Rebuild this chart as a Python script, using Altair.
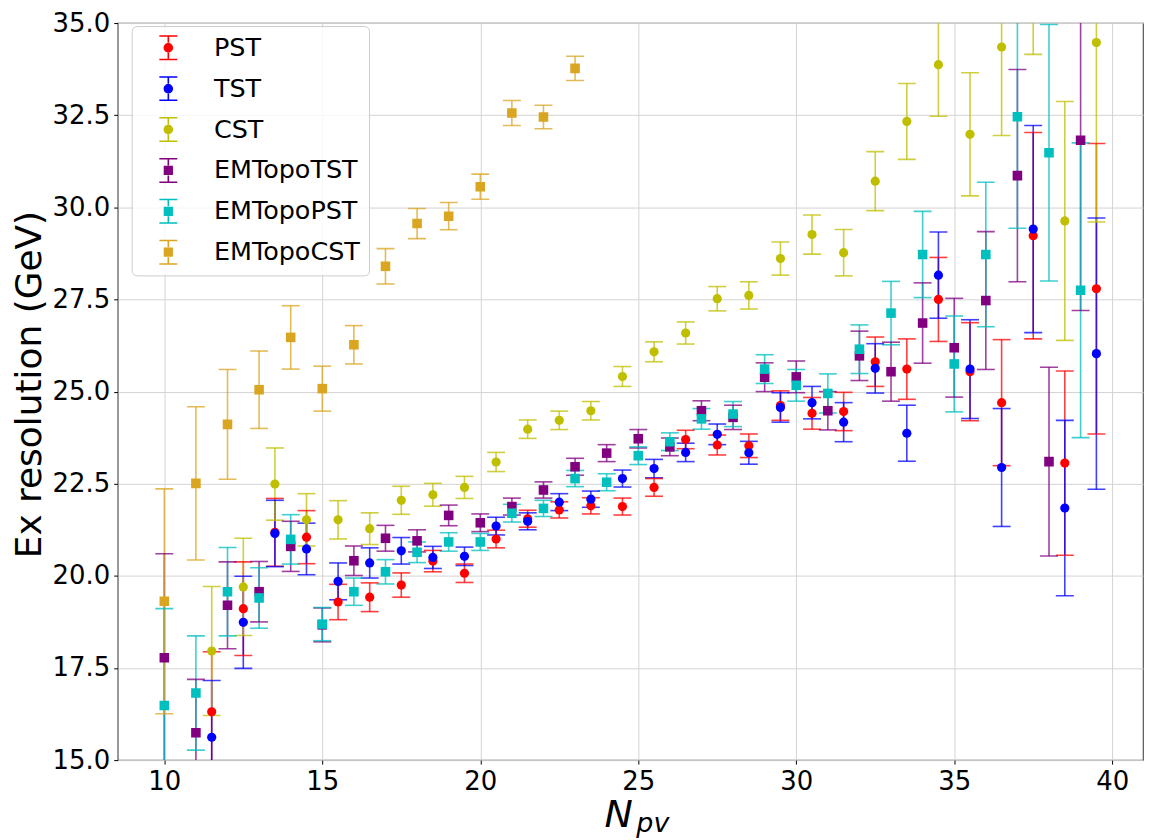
import altair as alt
import pandas as pd

# ---------------- data ----------------
series_names = ["PST", "TST", "CST", "EMTopoTST", "EMTopoPST", "EMTopoCST"]
series_colors = ["#ff0000", "#0000ff", "#bfbf00", "#800080", "#00bfbf", "#daa520"]

npv_half = [11.5, 12.5, 13.5, 14.5, 15.5, 16.5, 17.5, 18.5, 19.5, 20.5,
            21.5, 22.5, 23.5, 24.5, 25.5, 26.5, 27.5, 28.5, 29.5, 30.5,
            31.5, 32.5, 33.5, 34.5, 35.5, 36.5, 37.5, 38.5, 39.5]
npv_int = [10, 11, 12, 13, 14, 15, 16, 17, 18, 19, 20, 21, 22, 23, 24,
           25, 26, 27, 28, 29, 30, 31, 32, 33, 34, 35, 36, 37, 38, 39]
npv_emcst = [10, 11, 12, 13, 14, 15, 16, 17, 18, 19, 20, 21, 22, 23]

pst_val = [16.31, 19.11, 21.18, 21.05, 19.29, 19.42, 19.75, 20.40, 20.07, 21.00,
           21.55, 21.79, 21.90, 21.88, 22.40, 23.70, 23.55, 23.53, 24.62, 24.41,
           24.46, 25.81, 25.61, 27.50, 25.54, 24.70, 29.23, 23.06, 27.79]
pst_err = [1.63, 1.27, 0.92, 0.72, 0.48, 0.39, 0.33, 0.29, 0.25, 0.24,
           0.23, 0.22, 0.22, 0.23, 0.24, 0.25, 0.27, 0.32, 0.40, 0.43,
           0.52, 0.67, 0.82, 1.14, 1.33, 1.71, 2.80, 2.50, 3.94]

tst_val = [15.62, 18.74, 21.15, 20.73, 19.85, 20.35, 20.68, 20.50, 20.53, 21.35,
           21.48, 22.00, 22.08, 22.64, 22.91, 23.35, 23.84, 23.34, 24.57, 24.70,
           24.17, 25.63, 23.87, 28.16, 25.61, 22.94, 29.41, 21.84, 26.03]
tst_err = [1.54, 1.25, 0.90, 0.70, 0.50, 0.41, 0.36, 0.30, 0.25, 0.24,
           0.23, 0.23, 0.22, 0.23, 0.25, 0.25, 0.28, 0.31, 0.40, 0.44,
           0.53, 0.67, 0.76, 1.17, 1.34, 1.60, 2.81, 2.38, 3.68]

cst_val = [17.96, 19.70, 22.49, 21.52, 21.52, 21.28, 22.05, 22.20, 22.40, 23.09,
           23.98, 24.22, 24.48, 25.41, 26.08, 26.59, 27.52, 27.61, 28.61, 29.26,
           28.77, 30.71, 32.33, 33.87, 31.98, 34.35, 36.70, 29.63, 34.47]
cst_err = [1.75, 1.32, 0.98, 0.71, 0.52, 0.43, 0.38, 0.31, 0.30, 0.26,
           0.25, 0.25, 0.25, 0.27, 0.27, 0.30, 0.33, 0.37, 0.45, 0.53,
           0.63, 0.80, 1.03, 1.40, 1.67, 2.40, 2.55, 3.24, 4.87]

emtst_val = [17.78, 15.74, 19.20, 19.57, 20.80, 18.67, 20.41, 21.02, 20.95, 21.64,
             21.44, 21.88, 22.33, 22.96, 23.33, 23.72, 23.50, 24.48, 24.30, 25.39,
             25.40, 24.48, 25.97, 25.54, 26.86, 26.19, 27.47, 30.86, 23.10, 31.82]
emtst_err = [2.82, 1.45, 1.18, 0.82, 0.68, 0.46, 0.40, 0.35, 0.30, 0.28,
             0.24, 0.23, 0.22, 0.23, 0.23, 0.25, 0.24, 0.27, 0.33, 0.39,
             0.43, 0.52, 0.67, 0.80, 1.09, 1.34, 1.87, 2.88, 2.56, 4.62]

empst_val = [16.48, 16.82, 19.57, 19.40, 20.99, 18.69, 19.57, 20.11, 20.64, 20.92,
             20.92, 21.70, 21.83, 22.64, 22.54, 23.26, 23.64, 24.26, 24.39, 25.61,
             25.17, 24.95, 26.15, 27.13, 28.72, 25.75, 28.72, 32.46, 31.48, 27.75]
empst_err = [2.63, 1.55, 1.20, 0.82, 0.67, 0.45, 0.37, 0.33, 0.28, 0.25,
             0.23, 0.24, 0.22, 0.22, 0.23, 0.24, 0.24, 0.28, 0.34, 0.39,
             0.43, 0.53, 0.66, 0.86, 1.17, 1.30, 1.96, 3.03, 3.48, 4.00]

emcst_val = [19.31, 22.51, 24.11, 25.05, 26.47, 25.08, 26.27, 28.40, 29.56, 29.76,
             30.56, 32.56, 32.45, 33.77]
emcst_err = [3.05, 2.08, 1.49, 1.05, 0.86, 0.61, 0.52, 0.48, 0.41, 0.37,
             0.34, 0.34, 0.32, 0.33]

x_ticks = [10, 15, 20, 25, 30, 35, 40]
y_ticks = [15.0, 17.5, 20.0, 22.5, 25.0, 27.5, 30.0, 32.5, 35.0]

# ---------------- table ----------------
groups = [
    ("PST", npv_half, pst_val, pst_err),
    ("TST", npv_half, tst_val, tst_err),
    ("CST", npv_half, cst_val, cst_err),
    ("EMTopoTST", npv_int, emtst_val, emtst_err),
    ("EMTopoPST", npv_int, empst_val, empst_err),
    ("EMTopoCST", npv_emcst, emcst_val, emcst_err),
]
rows = []
for name, xs, ys, es in groups:
    for xv, yv, ev in zip(xs, ys, es):
        rows.append({"series": name, "npv": xv, "res": yv, "err": ev,
                     "lo": yv - ev, "hi": yv + ev})
df = pd.DataFrame(rows)

FONT = "DejaVu Sans"
W, H = 1028, 739

color_scale = alt.Scale(domain=series_names, range=series_colors)
x_scale = alt.Scale(domain=[8.525, 40.975], nice=False, zero=False)
y_scale = alt.Scale(domain=[15, 35], nice=False, zero=False)


def x_axis():
    return alt.Axis(values=x_ticks, format="d", title=None, labelFontSize=26,
                    tickSize=4, labelPadding=4, grid=True)


def y_axis():
    return alt.Axis(values=y_ticks, format=".1f", title="Ex resolution (GeV)",
                    labelFontSize=26, tickSize=4, labelPadding=4, grid=True,
                    titleFontSize=36, titleFontWeight="normal",
                    titleX=-77, titleY=362, titleAngle=270,
                    titleBaseline="alphabetic", titleAlign="center")


def X(field="npv"):
    return alt.X(f"{field}:Q", scale=x_scale, axis=x_axis(), title=None)


def Y(field):
    return alt.Y(f"{field}:Q", scale=y_scale, axis=y_axis(), title="Ex resolution (GeV)")


base = alt.Chart(df)
col = alt.Color("series:N", scale=color_scale, legend=None)

# legend glyphs: marker with error bar
tb = ("M-0.72,-1L0.72,-1L0.72,-0.88L0.065,-0.88L0.065,-0.4L-0.065,-0.4L-0.065,-0.88L-0.72,-0.88Z"
      "M-0.72,1L0.72,1L0.72,0.88L0.065,0.88L0.065,0.4L-0.065,0.4L-0.065,0.88L-0.72,0.88Z")
circle_glyph = "M-0.38,0A0.38,0.38,0,1,0,0.38,0A0.38,0.38,0,1,0,-0.38,0Z" + tb
square_glyph = "M-0.37,-0.37L0.37,-0.37L0.37,0.37L-0.37,0.37Z" + tb
glyphs = [circle_glyph, circle_glyph, circle_glyph, square_glyph, square_glyph, square_glyph]


def make_legend():
    return alt.Legend(title=None, orient="none", legendX=14, legendY=3,
                      labelFontSize=25.5, labelFont=FONT, labelColor="#000000",
                      padding=9, symbolOffset=15, labelOffset=33, rowPadding=14,
                      symbolSize=625, symbolStrokeWidth=0, symbolOpacity=1,
                      fillColor="rgba(255,255,255,0.8)", strokeColor="#cccccc",
                      cornerRadius=5)


legend_layer = base.transform_filter("false").mark_point(
    filled=True, opacity=1, size=625).encode(
    x=X(), y=Y("res"),
    color=alt.Color("series:N", scale=color_scale, legend=make_legend()),
    shape=alt.Shape("series:N", scale=alt.Scale(domain=series_names, range=glyphs),
                    legend=make_legend()),
)

bars = base.mark_rule(strokeWidth=1.6, opacity=0.75, clip=True).encode(
    x=X(), y=Y("lo"), y2="hi:Q", color=col)
caps_lo = base.mark_rule(strokeWidth=1.6, opacity=0.75, clip=True,
                         xOffset=-9, x2Offset=9).encode(
    x=X(), x2="npv:Q", y=Y("lo"), color=col)
caps_hi = base.mark_rule(strokeWidth=1.6, opacity=0.75, clip=True,
                         xOffset=-9, x2Offset=9).encode(
    x=X(), x2="npv:Q", y=Y("hi"), color=col)

pts_c = base.transform_filter(
    alt.FieldOneOfPredicate(field="series", oneOf=["PST", "TST", "CST"])
).mark_point(filled=True, shape="circle", size=85, opacity=1, clip=True).encode(
    x=X(), y=Y("res"), color=col)
pts_s = base.transform_filter(
    alt.FieldOneOfPredicate(field="series", oneOf=["EMTopoTST", "EMTopoPST", "EMTopoCST"])
).mark_point(filled=True, shape="square", size=92, opacity=1, clip=True).encode(
    x=X(), y=Y("res"), color=col)

title_n = alt.Chart(pd.DataFrame({"t": ["N"]})).mark_text(
    align="left", baseline="alphabetic", font=FONT, fontSize=38,
    fontStyle="italic", color="#000000").encode(
    x=alt.value(488), y=alt.value(H + 67), text="t:N")
title_pv = alt.Chart(pd.DataFrame({"t": ["pv"]})).mark_text(
    align="left", baseline="alphabetic", font=FONT, fontSize=27,
    fontStyle="italic", color="#000000").encode(
    x=alt.value(520), y=alt.value(H + 72), text="t:N")

chart = alt.layer(legend_layer, bars, caps_lo, caps_hi, pts_c, pts_s, title_n, title_pv).properties(
    width=W, height=H,
    autosize=alt.AutoSizeParams(type="none"),
    padding={"left": 110, "top": 14, "right": 2, "bottom": 78},
    background="white",
).configure_axis(
    labelFont=FONT, titleFont=FONT, labelColor="#000000", titleColor="#000000",
    tickColor="#000000", domain=False, gridColor="#d3d3d3", gridWidth=1,
).configure_view(
    stroke="#555555", strokeWidth=1.2,
)

chart.save("out.html", embed_options={"renderer": "svg", "actions": False})
